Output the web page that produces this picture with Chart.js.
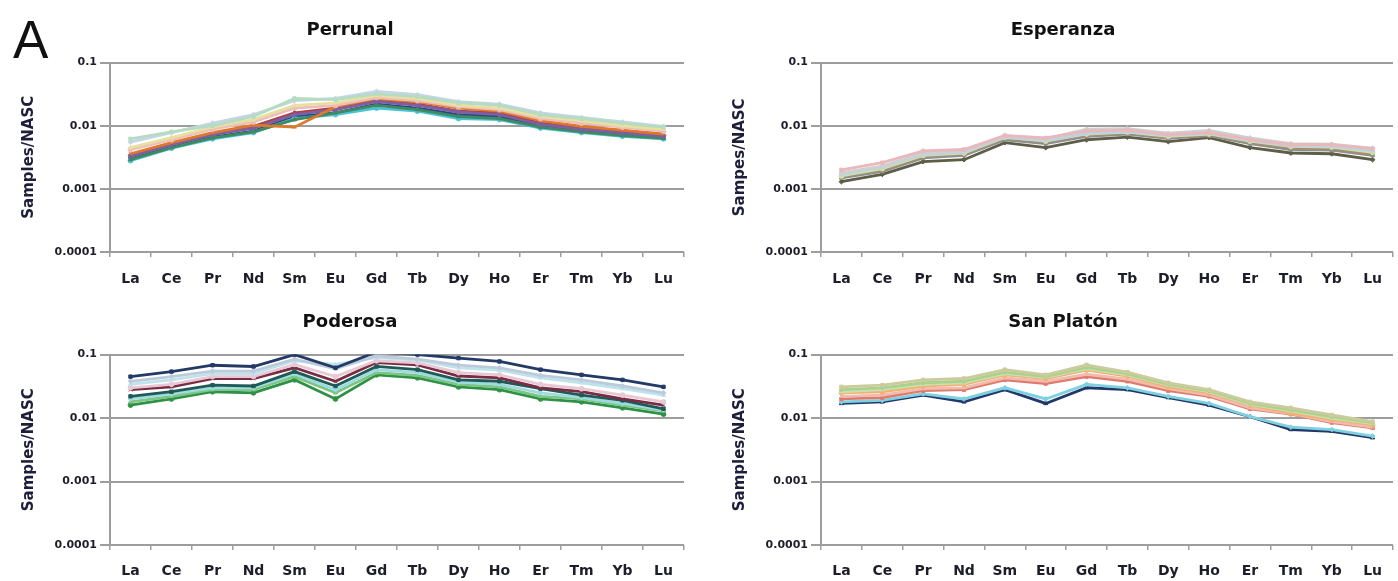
<!DOCTYPE html>
<html>
<head>
<meta charset="utf-8">
<script src="https://cdn.jsdelivr.net/npm/chart.js@4/dist/chart.umd.min.js"></script>
<style>
html,body{margin:0;padding:0;background:#fff;width:1398px;height:581px;overflow:hidden;}
canvas{position:absolute;}
#lab{position:absolute;left:13px;top:13px;font:53px/53px "Liberation Sans",Arial,sans-serif;color:#111;}
</style>
</head>
<body>
<div id="lab">A</div>
<canvas id="c1" width="700" height="295" style="left:0;top:0"></canvas>
<canvas id="c2" width="698" height="295" style="left:700px;top:0"></canvas>
<canvas id="c3" width="700" height="291" style="left:0;top:290px"></canvas>
<canvas id="c4" width="698" height="291" style="left:700px;top:290px"></canvas>
<script>
// ---- categories and tick labels ----
const elements = ['La','Ce','Pr','Nd','Sm','Eu','Gd','Tb','Dy','Ho','Er','Tm','Yb','Lu'];
const yTicks = [0.0001, 0.001, 0.01, 0.1];

// ---- Perrunal ----
const perrunalNavy   = [0.0030,0.0046,0.0066,0.0082,0.014,0.016,0.022,0.019,0.015,0.014,0.0098,0.0082,0.0072,0.0064];
const perrunalTeal   = [0.0028,0.0044,0.0062,0.0078,0.013,0.015,0.019,0.017,0.013,0.0125,0.0092,0.0078,0.0068,0.0062];
const perrunalGreen  = [0.0029,0.0045,0.0064,0.0080,0.0125,0.016,0.021,0.018,0.014,0.013,0.0095,0.0080,0.0070,0.0063];
const perrunalRed    = [0.0034,0.0052,0.0074,0.0098,0.016,0.019,0.025,0.022,0.017,0.016,0.011,0.0092,0.0080,0.0070];
const perrunalPurple = [0.0033,0.0050,0.0072,0.0092,0.015,0.018,0.024,0.021,0.0165,0.015,0.0105,0.0088,0.0077,0.0068];
const perrunalOrange = [0.0036,0.0054,0.0078,0.0102,0.0095,0.020,0.027,0.024,0.019,0.017,0.012,0.0098,0.0085,0.0074];
const perrunalPink   = [0.0042,0.0060,0.0088,0.0115,0.019,0.021,0.028,0.025,0.020,0.018,0.013,0.011,0.0095,0.0082];
const perrunalYellow = [0.0045,0.0065,0.0095,0.0125,0.021,0.023,0.030,0.027,0.021,0.019,0.014,0.012,0.0100,0.0088];
const perrunalLtBlue = [0.0055,0.0078,0.011,0.015,0.025,0.027,0.035,0.031,0.024,0.022,0.016,0.0135,0.0115,0.0098];
const perrunalLtGrn  = [0.0062,0.0080,0.010,0.014,0.027,0.026,0.032,0.029,0.023,0.021,0.015,0.013,0.011,0.0095];

// ---- Esperanza ----
const esperanzaDark  = [0.0013,0.0017,0.0027,0.0029,0.0054,0.0045,0.0060,0.0066,0.0056,0.0065,0.0045,0.0037,0.0036,0.0029];
const esperanzaGray  = [0.0015,0.0019,0.0031,0.0034,0.0060,0.0052,0.0068,0.0074,0.0063,0.0070,0.0052,0.0042,0.0041,0.0034];
const esperanzaOlive = [0.0016,0.0020,0.0033,0.0036,0.0063,0.0056,0.0072,0.0078,0.0066,0.0073,0.0055,0.0045,0.0044,0.0036];
const esperanzaLtGrn = [0.0016,0.0021,0.0034,0.0037,0.0066,0.0057,0.0074,0.0079,0.0068,0.0074,0.0057,0.0047,0.0046,0.0038];
const esperanzaLtBlu = [0.0017,0.0022,0.0035,0.0038,0.0065,0.0058,0.0075,0.0080,0.0070,0.0076,0.0058,0.0048,0.0047,0.0040];
const esperanzaLtGry = [0.0018,0.0023,0.0037,0.0040,0.0068,0.0062,0.0088,0.0090,0.0076,0.0084,0.0064,0.0052,0.0051,0.0044];
const esperanzaPink  = [0.0020,0.0026,0.0040,0.0042,0.0070,0.0064,0.0082,0.0085,0.0072,0.0078,0.0060,0.0050,0.0050,0.0043];

// ---- Poderosa ----
const poderosaNavy   = [0.045,0.054,0.068,0.065,0.10,0.062,0.11,0.10,0.088,0.078,0.058,0.048,0.040,0.031];
const poderosaGrayBl = [0.038,0.045,0.055,0.055,0.085,0.060,0.095,0.085,0.068,0.062,0.047,0.040,0.032,0.025];
const poderosaCyan   = [0.034,0.040,0.050,0.050,0.080,0.070,0.090,0.082,0.062,0.057,0.043,0.036,0.029,0.023];
const poderosaPink   = [0.030,0.034,0.045,0.045,0.070,0.045,0.080,0.074,0.052,0.048,0.034,0.029,0.023,0.018];
const poderosaMaroon = [0.028,0.031,0.042,0.042,0.062,0.038,0.075,0.069,0.046,0.043,0.030,0.026,0.020,0.016];
const poderosaTeal   = [0.022,0.026,0.033,0.032,0.054,0.032,0.065,0.058,0.040,0.038,0.029,0.023,0.019,0.014];
const poderosaLtCyan = [0.020,0.024,0.030,0.030,0.050,0.028,0.058,0.052,0.037,0.034,0.025,0.021,0.017,0.0135];
const poderosaLtGrn  = [0.018,0.022,0.028,0.028,0.045,0.025,0.052,0.047,0.034,0.031,0.022,0.020,0.016,0.013];
const poderosaGreen  = [0.016,0.020,0.026,0.025,0.040,0.020,0.048,0.043,0.031,0.028,0.020,0.018,0.0145,0.0115];

// ---- San Platón ----
const sanPlatonNavy   = [0.017,0.018,0.023,0.018,0.028,0.017,0.030,0.028,0.021,0.016,0.0105,0.0066,0.0062,0.0049];
const sanPlatonCyan   = [0.018,0.019,0.024,0.020,0.030,0.020,0.034,0.030,0.022,0.017,0.0105,0.0072,0.0066,0.0052];
const sanPlatonRed    = [0.020,0.021,0.027,0.028,0.040,0.035,0.045,0.038,0.027,0.022,0.014,0.0115,0.0085,0.0070];
const sanPlatonPink   = [0.022,0.023,0.029,0.030,0.043,0.038,0.049,0.041,0.029,0.023,0.0145,0.0118,0.0088,0.0072];
const sanPlatonOrange = [0.025,0.026,0.032,0.034,0.048,0.042,0.057,0.046,0.031,0.025,0.016,0.012,0.0095,0.0078];
const sanPlatonLtGrn2 = [0.026,0.028,0.034,0.036,0.050,0.044,0.060,0.048,0.033,0.026,0.0165,0.013,0.010,0.0082];
const sanPlatonLtGrn  = [0.028,0.030,0.036,0.038,0.053,0.045,0.063,0.050,0.034,0.027,0.017,0.0135,0.0105,0.0085];
const sanPlatonKhaki  = [0.031,0.033,0.040,0.042,0.058,0.048,0.069,0.053,0.036,0.028,0.018,0.0145,0.0112,0.0088];

Chart.defaults.font.family = '"DejaVu Sans", sans-serif';
Chart.defaults.color = '#1e1e2a';

const GRID = '#9d9d9d';
const styles = ['rect','rectRot','triangle','circle','crossRot','rect','rectRot','triangle','circle','rect'];

function ds(data, color, i) {
  return {
    data: data, borderColor: color, backgroundColor: color,
    borderWidth: 2.8, pointRadius: 2.4, pointStyle: styles[i % styles.length],
    pointBorderWidth: 1, tension: 0
  };
}

function makeChart(id, title, yTitle, series, g) {
  new Chart(document.getElementById(id), {
    type: 'line',
    data: {
      labels: elements,
      datasets: series.map((s, i) => ds(s[0], s[1], i))
    },
    options: {
      responsive: false, animation: false, devicePixelRatio: 1,
      layout: { padding: { left: g.padL, right: g.padR, top: 0, bottom: 0 } },
      plugins: {
        legend: { display: false }, tooltip: { enabled: false },
        title: {
          display: true, text: title,
          font: { size: 18, weight: 'bold' }, color: '#111',
          padding: { top: g.tTop, bottom: g.tBot }
        }
      },
      scales: {
        x: {
          type: 'category', offset: true,
          grid: { display: true, drawOnChartArea: false, drawTicks: true, tickLength: 5, offset: true, color: GRID, lineWidth: 1.5 },
          border: { display: false },
          ticks: { font: { size: 14, weight: 'bold' }, padding: g.xPad, maxRotation: 0, autoSkip: false, color: '#1e1e2a' },
          afterFit: (s) => { s.height = g.xH; }
        },
        y: {
          type: 'logarithmic', min: 0.0001, max: 0.1,
          grid: { color: GRID, lineWidth: 2, tickLength: 10, drawTicks: true },
          border: { display: true, color: GRID, width: 2 },
          ticks: { font: { size: 11, weight: 'bold' }, padding: 3, color: '#1e1e2a',
                   callback: (v) => String(v) },
          afterBuildTicks: (s) => { s.ticks = yTicks.map(v => ({ value: v })); },
          afterFit: (s) => { s.width = g.yW; },
          title: { display: true, text: yTitle, font: { size: 15, weight: 'bold' },
                   padding: { top: g.yTP, bottom: 0 }, color: '#1e1e3a' }
        }
      }
    }
  });
}

const gTL = { padL: 16, padR: 16, yW: 94, xH: 43, tTop: 20, tBot: 21, xPad: 14, yTP: 4 };
const gTR = { padL: 31, padR: 3,  yW: 90, xH: 43, tTop: 20, tBot: 21, xPad: 14, yTP: 0 };
const gBL = { padL: 16, padR: 16, yW: 94, xH: 36, tTop: 22, tBot: 21, xPad: 13, yTP: 4 };
const gBR = { padL: 31, padR: 3,  yW: 90, xH: 36, tTop: 22, tBot: 21, xPad: 13, yTP: 0 };

makeChart('c1', 'Perrunal', 'Samples/NASC', [
  [perrunalLtGrn, '#b5dcc0'], [perrunalLtBlue, '#c3d5e6'], [perrunalYellow, '#e8e0a0'],
  [perrunalPink, '#eebcbc'], [perrunalOrange, '#e0782a'], [perrunalPurple, '#7d5fa3'],
  [perrunalRed, '#b0403c'], [perrunalGreen, '#3f8a60'], [perrunalTeal, '#4bc3d6'],
  [perrunalNavy, '#274a86']
], gTL);

makeChart('c2', 'Esperanza', 'Sampes/NASC', [
  [esperanzaPink, '#e9b8bc'], [esperanzaLtGry, '#cfcfcf'], [esperanzaLtBlu, '#bcd4e2'],
  [esperanzaLtGrn, '#cfe0a8'], [esperanzaOlive, '#a89060'], [esperanzaGray, '#8f8f8f'],
  [esperanzaDark, '#5d5d48']
], gTR);

makeChart('c3', 'Poderosa', 'Samples/NASC', [
  [poderosaNavy, '#233a66'], [poderosaGrayBl, '#bccbdc'], [poderosaCyan, '#bfe3ea'],
  [poderosaPink, '#e8c8d4'], [poderosaMaroon, '#7a2c44'], [poderosaTeal, '#1f5a55'],
  [poderosaLtCyan, '#9ddbe3'], [poderosaLtGrn, '#7cc583'], [poderosaGreen, '#2f9146']
], gBL);

makeChart('c4', 'San Platón', 'Samples/NASC', [
  [sanPlatonKhaki, '#cbcb9c'], [sanPlatonLtGrn, '#a9d28e'], [sanPlatonLtGrn2, '#c6e2b2'],
  [sanPlatonOrange, '#f5b070'], [sanPlatonPink, '#f0bcb2'], [sanPlatonRed, '#e07a6a'],
  [sanPlatonCyan, '#7fd0e0'], [sanPlatonNavy, '#22386a']
], gBR);
</script>
</body>
</html>
